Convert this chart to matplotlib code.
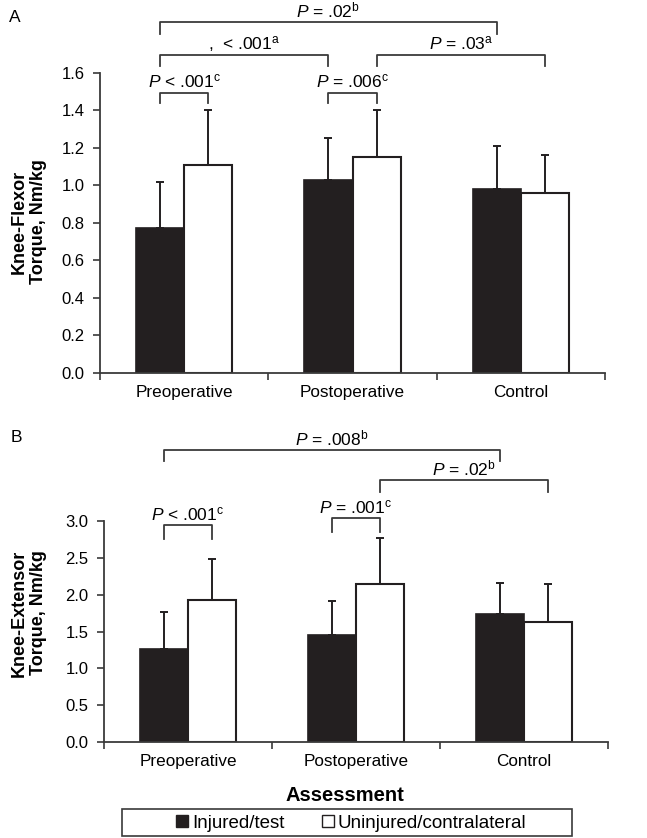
import numpy as np
import matplotlib
matplotlib.use("Agg")
import matplotlib.pyplot as plt
import matplotlib.patches as mpatches

plt.rcParams['font.family'] = ['Liberation Sans', 'DejaVu Sans']
plt.rcParams['mathtext.fontset'] = 'custom'
plt.rcParams['mathtext.rm'] = 'Liberation Sans'
plt.rcParams['mathtext.it'] = 'Liberation Sans:italic'

# data
groups = ["Preoperative", "Postoperative", "Control"]
flexor_injured = [0.77, 1.03, 0.98]
flexor_injured_sd = [0.25, 0.22, 0.23]
flexor_uninjured = [1.11, 1.15, 0.96]
flexor_uninjured_sd = [0.29, 0.25, 0.20]
extensor_injured = [1.26, 1.45, 1.74]
extensor_injured_sd = [0.50, 0.47, 0.42]
extensor_uninjured = [1.93, 2.15, 1.63]
extensor_uninjured_sd = [0.56, 0.62, 0.52]

# brackets: (group a, side a, group b, side b, bar y, end y, label)
flexor_brackets = [
    (0, 0, 2, 0, 1.868, 1.808, r"$P$ = .02$^{\mathrm{b}}$"),
    (0, 0, 1, 0, 1.696, 1.637, r",  < .001$^{\mathrm{a}}$"),
    (1, 1, 2, 1, 1.696, 1.637, r"$P$ = .03$^{\mathrm{a}}$"),
    (0, 0, 0, 1, 1.494, 1.441, r"$P$ < .001$^{\mathrm{c}}$"),
    (1, 0, 1, 1, 1.494, 1.441, r"$P$ = .006$^{\mathrm{c}}$"),
]
extensor_brackets = [
    (0, 0, 2, 0, 3.964, 3.814, r"$P$ = .008$^{\mathrm{b}}$"),
    (1, 1, 2, 1, 3.556, 3.394, r"$P$ = .02$^{\mathrm{b}}$"),
    (0, 0, 0, 1, 2.946, 2.75, r"$P$ < .001$^{\mathrm{c}}$"),
    (1, 0, 1, 1, 3.041, 2.85, r"$P$ = .001$^{\mathrm{c}}$"),
]

W, H = 647, 838
fig = plt.figure(figsize=(W / 100, H / 100), dpi=100)

BAR_W = 0.286
LINE = '#3a3a3a'


def draw_panel(ax, inj, inj_sd, uninj, uninj_sd, ymax, step, brackets, ypx):
    x = np.arange(len(groups))
    ax.bar(x - BAR_W / 2, inj, BAR_W, color='#231f20', edgecolor='#231f20', linewidth=1.2, zorder=2)
    ax.bar(x + BAR_W / 2, uninj, BAR_W, color='white', edgecolor='#231f20', linewidth=1.5, zorder=2)
    for xs, v, sd in [(x - BAR_W / 2, inj, inj_sd), (x + BAR_W / 2, uninj, uninj_sd)]:
        ax.errorbar(xs, v, yerr=[np.zeros(len(v)), sd], fmt='none', ecolor='#231f20',
                    elinewidth=1.4, capsize=3, capthick=1.4, zorder=3)

    ax.set_xlim(-0.5, len(groups) - 0.5)
    ax.set_ylim(0, ymax)
    ticks = np.arange(0, ymax + 1e-9, step)
    ax.set_yticks(ticks)
    ax.set_yticklabels([f"{v:.1f}" for v in ticks], fontsize=12)
    ax.set_xticks(x)
    ax.set_xticklabels(groups, fontsize=12.3)
    ax.set_xticks(np.arange(-0.5, len(groups)), minor=True)
    ax.tick_params(axis='x', which='major', length=0, pad=8.5)
    ax.tick_params(axis='x', which='minor', length=5, width=1.2, color=LINE)
    ax.tick_params(axis='y', length=5, width=1.2, color=LINE, pad=6)
    for s in ['top', 'right']:
        ax.spines[s].set_visible(False)
    for s in ['left', 'bottom']:
        ax.spines[s].set_linewidth(1.3)
        ax.spines[s].set_color(LINE)

    # p-value brackets
    gap = 5 * ymax / ypx
    for ga, sa, gb, sb, yb, ye, label in brackets:
        xa = ga + (BAR_W / 2 if sa else -BAR_W / 2)
        xb = gb + (BAR_W / 2 if sb else -BAR_W / 2)
        ax.plot([xa, xa, xb, xb], [ye, yb, yb, ye], color=LINE, lw=1.3, clip_on=False)
        ax.text((xa + xb) / 2, yb + gap, label, ha='center', va='baseline', fontsize=12.5)


ax1 = fig.add_axes([100 / W, (H - 373) / H, 505 / W, (373 - 72.7) / H])
draw_panel(ax1, flexor_injured, flexor_injured_sd, flexor_uninjured, flexor_uninjured_sd,
           1.6, 0.2, flexor_brackets, 373 - 72.7)
ax2 = fig.add_axes([104 / W, (H - 742) / H, 504 / W, (742 - 521) / H])
draw_panel(ax2, extensor_injured, extensor_injured_sd, extensor_uninjured, extensor_uninjured_sd,
           3.0, 0.5, extensor_brackets, 742 - 521)

# y labels and panel letters
fig.text(29 / W, 1 - 222 / H, "Knee-Flexor\nTorque, Nm/kg", rotation=90, ha='center', va='center',
         fontsize=13, fontweight='bold', linespacing=1.2)
fig.text(29 / W, 1 - 613 / H, "Knee-Extensor\nTorque, Nm/kg", rotation=90, ha='center', va='center',
         fontsize=13, fontweight='bold', linespacing=1.2)
fig.text(15 / W, 1 - 17 / H, "A", ha='center', va='center', fontsize=12.5)
fig.text(16 / W, 1 - 437 / H, "B", ha='center', va='center', fontsize=12.5)

fig.text(345 / W, 1 - 795 / H, "Assessment", ha='center', va='center', fontsize=14.5, fontweight='bold')

# legend box
box = mpatches.Rectangle((122 / W, 1 - 836 / H), 450 / W, 27 / H, transform=fig.transFigure,
                         fill=False, edgecolor=LINE, linewidth=1.2)
fig.patches.append(box)
handles = [
    mpatches.Patch(facecolor='#231f20', edgecolor='#231f20', label='Injured/test'),
    mpatches.Patch(facecolor='white', edgecolor='#231f20', label='Uninjured/contralateral'),
]
fig.legend(handles=handles, loc='center', bbox_to_anchor=(351 / W, 1 - 823 / H), ncol=2,
           frameon=False, fontsize=13.5, handlelength=0.65, handleheight=0.65, handletextpad=0.2,
           columnspacing=2.0)

fig.savefig("out.png", dpi=100)
